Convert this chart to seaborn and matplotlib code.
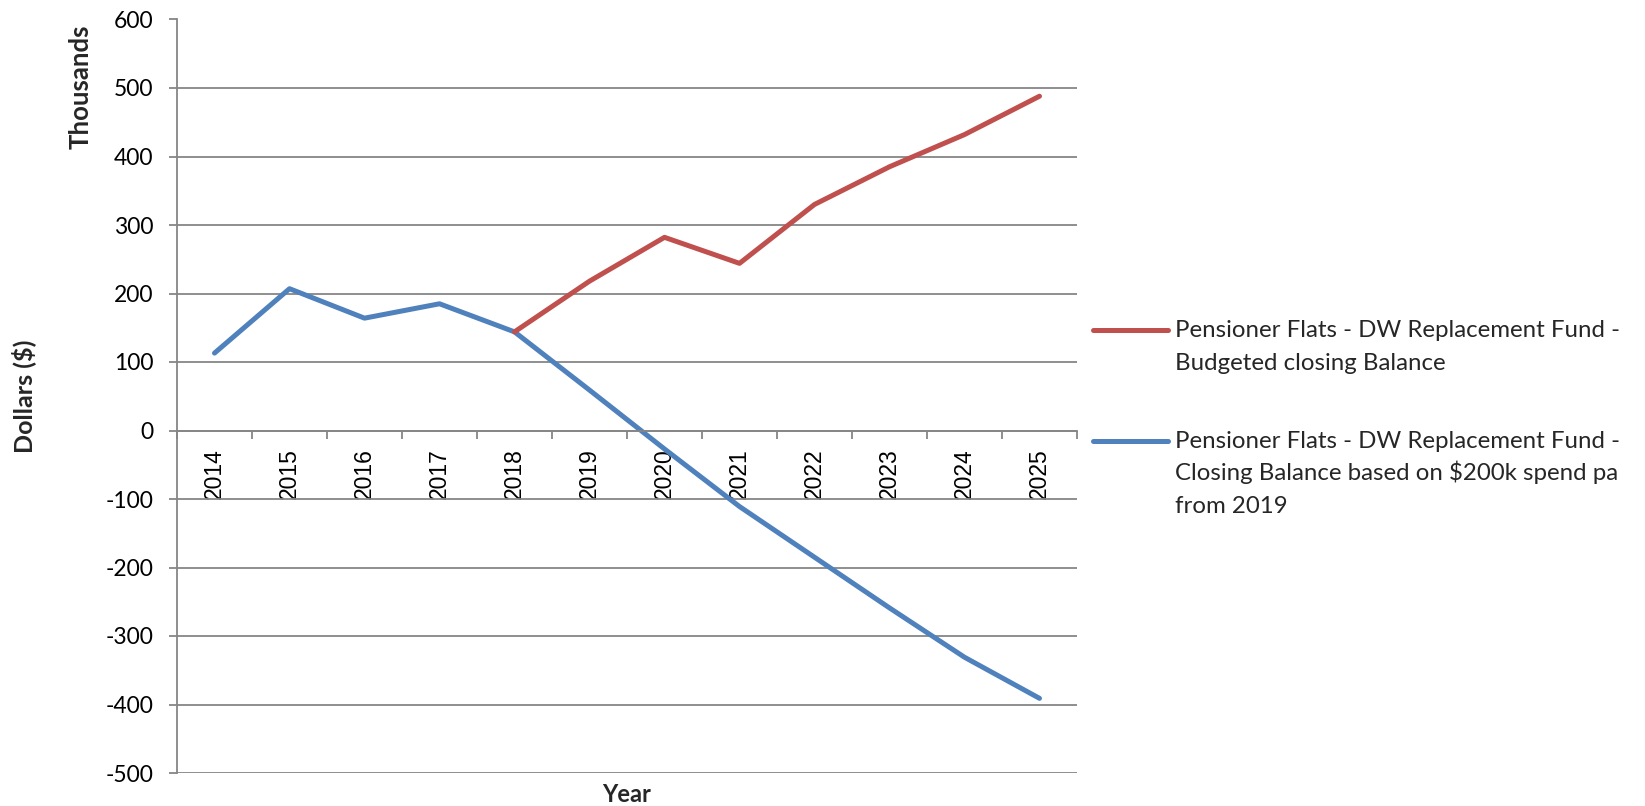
import matplotlib
matplotlib.use("Agg")
import matplotlib.pyplot as plt
from matplotlib.lines import Line2D
import numpy as np
import pandas as pd
import seaborn as sns

# Fund balances in thousands of dollars
years = [2014, 2015, 2016, 2017, 2018, 2019, 2020, 2021, 2022, 2023, 2024, 2025]
budgeted = [np.nan, np.nan, np.nan, np.nan, 144, 218, 282, 244, 330, 385, 432, 488]
spend_case = [113, 207, 164, 185, 144, 59, -27, -111, -185, -259, -331, -391]

series_names = [
    "Pensioner Flats - DW Replacement Fund -\nBudgeted closing Balance",
    "Pensioner Flats - DW Replacement Fund -\nClosing Balance based on $200k spend pa\nfrom 2019",
]
colors = ["#C0504D", "#4F81BD"]
y_ticks = list(range(-500, 601, 100))

df = pd.concat([
    pd.DataFrame({"Year": years, "Balance": budgeted, "Series": series_names[0]}),
    pd.DataFrame({"Year": years, "Balance": spend_case, "Series": series_names[1]}),
]).dropna()

sns.set_theme(style="white")
plt.rcParams["font.family"] = ["Lato", "DejaVu Sans"]

grid_color = "#868686"
fig = plt.figure(figsize=(16.45, 8.06), dpi=100)
ax = fig.add_axes([177 / 1645, 1 - 773 / 806, 900 / 1645, 753.5 / 806])

sns.lineplot(data=df, x="Year", y="Balance", hue="Series", hue_order=series_names[::-1],
             palette=dict(zip(series_names, colors)), linewidth=3.6, legend=False,
             sort=False, ax=ax, solid_capstyle="round", solid_joinstyle="round")

ax.set_xlim(2013.5, 2025.5)
ax.set_ylim(-500, 600)
ax.set_yticks(y_ticks)
ax.set_yticklabels([str(v) for v in y_ticks], fontsize=16.5, color="#000000")
ax.grid(axis="y", color=grid_color, linewidth=1.3)
ax.grid(axis="x", visible=False)
ax.set_axisbelow(True)

for side in ["top", "right"]:
    ax.spines[side].set_visible(False)
ax.spines["left"].set_color(grid_color)
ax.spines["left"].set_linewidth(1.3)
ax.spines["bottom"].set_position(("data", 0))
ax.spines["bottom"].set_color(grid_color)
ax.spines["bottom"].set_linewidth(1.3)

ax.tick_params(axis="y", which="major", direction="out", length=6, width=1.3,
               color=grid_color, pad=11, left=True)
ax.set_xticks(years)
ax.set_xticklabels([str(y) for y in years], rotation=90, fontsize=16.5,
                   family="Liberation Sans", color="#000000")
ax.set_xticks(np.arange(2013.5, 2025.6, 1.0), minor=True)
ax.tick_params(axis="x", which="major", length=0, pad=13, bottom=True)
ax.tick_params(axis="x", which="minor", direction="out", length=6, width=1.3,
               color=grid_color, bottom=True)

ax.set_xlabel("Year", fontsize=17, fontweight="bold")
ax.xaxis.set_label_coords(0.5, -0.029)
ax.xaxis.label.set_va("center")
ax.set_ylabel("Dollars ($)", fontsize=18, fontweight="bold")
ax.yaxis.set_label_coords(-0.17, 0.5)
ax.yaxis.label.set_va("center")
fig.text(81 / 1645, 1 - 87 / 806, "Thousands", rotation=90, ha="center", va="center",
         fontsize=18.5, fontweight="bold")

# Legend: handle aligned with the first line of each label
legend_rows = [(330, series_names[0], colors[0]), (441, series_names[1], colors[1])]
for ypix, label, col in legend_rows:
    yf = 1 - ypix / 806
    fig.add_artist(Line2D([1093 / 1645, 1168 / 1645], [yf, yf], color=col,
                          linewidth=3.6, solid_capstyle="round",
                          transform=fig.transFigure))
    for i, line in enumerate(label.split("\n")):
        base = ypix + 7 + i * 32.5
        fig.text(1175 / 1645, 1 - base / 806, line, ha="left", va="baseline",
                 fontsize=17.3)

fig.savefig("out.png", dpi=100, facecolor="white")
